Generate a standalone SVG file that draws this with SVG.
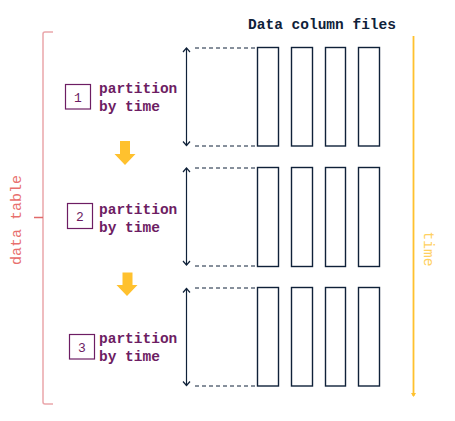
<svg xmlns="http://www.w3.org/2000/svg" width="455" height="421" viewBox="0 0 455 421">
<defs>
<style>
.col{fill:#fff;stroke:#0f2139;stroke-width:1.4}
.dash{stroke:#0f2139;stroke-width:1;stroke-dasharray:4 3;fill:none}
.dbl{stroke:#0f2139;stroke-width:1.2;fill:none;marker-start:url(#open);marker-end:url(#open)}
.lbl{font-family:"Liberation Mono","Courier New",monospace;font-size:14.5px;font-weight:bold;fill:#6d1d63}
.num{font-family:"Liberation Mono","Courier New",monospace;font-size:13px;fill:#6d1d63;text-anchor:middle}
.box{fill:#fff;stroke:#6d1d63;stroke-width:1.2}
.yarr{fill:#ffc12e}
</style>
<marker id="open" viewBox="-6 -6 12 12" markerWidth="12" markerHeight="12" refX="0" refY="0" orient="auto-start-reverse" markerUnits="userSpaceOnUse">
<path d="M-4,-3.5 L0,0 L-4,3.5" fill="none" stroke="#0f2139" stroke-width="1.2"/>
</marker>
<marker id="tarr" viewBox="-4 -4 8 8" markerWidth="8" markerHeight="8" refX="0" refY="0" orient="auto" markerUnits="userSpaceOnUse">
<path d="M-3,-2.5 L1,0 L-3,2.5 Z" fill="#ffc12e"/>
</marker>
</defs>
<rect width="455" height="421" fill="#fff"/>

<g id="title">
<text x="322" y="29" text-anchor="middle" font-family="'Liberation Mono','Courier New',monospace" font-size="14.5" font-weight="bold" fill="#0f2139">Data column files</text>
</g>

<g id="brace">
<path d="M53,32 L45,32 Q43,32 43,34 L43,402 Q43,404 45,404 L53,404" fill="none" stroke="#eaa6ab" stroke-width="1.5"/>
<line x1="34" y1="217.5" x2="43" y2="217.5" stroke="#e06a6a" stroke-width="1.5"/>
<text transform="translate(21,220) rotate(-90)" text-anchor="middle" font-family="'Liberation Mono','Courier New',monospace" font-size="15" fill="#e8706e">data table</text>
</g>

<g id="timeline">
<line x1="413.5" y1="36" x2="413.5" y2="396" stroke="#ffc12e" stroke-width="1.8" marker-end="url(#tarr)"/>
<text transform="translate(424,249) rotate(90)" text-anchor="middle" font-family="'Liberation Mono','Courier New',monospace" font-size="14.5" fill="#ffd060">time</text>
</g>

<g id="partition1">
<rect class="box" x="65.5" y="84.5" width="25" height="24.5"/>
<text class="num" x="78" y="101.5">1</text>
<text class="lbl" x="99" y="93">partition</text>
<text class="lbl" x="99" y="111">by time</text>
</g>
<g id="partition2">
<rect class="box" x="67.5" y="203.5" width="25" height="25"/>
<text class="num" x="80" y="220.5">2</text>
<text class="lbl" x="99" y="214">partition</text>
<text class="lbl" x="99" y="232">by time</text>
</g>
<g id="partition3">
<rect class="box" x="69.5" y="334.5" width="25" height="24.5"/>
<text class="num" x="82" y="351.5">3</text>
<text class="lbl" x="99" y="342.5">partition</text>
<text class="lbl" x="99" y="360.5">by time</text>
</g>

<g id="row1">
<rect class="col" x="257.5" y="47.5" width="21" height="98.5"/>
<rect class="col" x="291.5" y="47.5" width="21" height="98.5"/>
<rect class="col" x="325.5" y="47.5" width="20" height="98.5"/>
<rect class="col" x="358.5" y="47.5" width="21" height="98.5"/>
</g>
<g id="row2">
<rect class="col" x="257.5" y="167.5" width="21" height="99"/>
<rect class="col" x="291.5" y="167.5" width="21" height="99"/>
<rect class="col" x="325.5" y="167.5" width="20" height="99"/>
<rect class="col" x="358.5" y="167.5" width="21" height="99"/>
</g>
<g id="row3">
<rect class="col" x="257.5" y="287.5" width="21" height="98.5"/>
<rect class="col" x="291.5" y="287.5" width="21" height="98.5"/>
<rect class="col" x="325.5" y="287.5" width="20" height="98.5"/>
<rect class="col" x="358.5" y="287.5" width="21" height="98.5"/>
</g>

<g id="connectors">
<line class="dash" x1="195" y1="48" x2="257" y2="48"/>
<line class="dash" x1="195" y1="146" x2="257" y2="146"/>
<line class="dash" x1="195" y1="168" x2="257" y2="168"/>
<line class="dash" x1="195" y1="266" x2="257" y2="266"/>
<line class="dash" x1="195" y1="288" x2="257" y2="288"/>
<line class="dash" x1="195" y1="386" x2="257" y2="386"/>
<line class="dbl" x1="186.5" y1="48" x2="186.5" y2="145.5"/>
<line class="dbl" x1="186.5" y1="168" x2="186.5" y2="265"/>
<line class="dbl" x1="186.5" y1="288.5" x2="186.5" y2="385.5"/>
<path class="yarr" d="M120,141 L130,141 L130,154 L135.5,154 L125,165 L114.5,154 L120,154 Z"/>
<path class="yarr" d="M122.5,272.5 L132.5,272.5 L132.5,285 L137.5,285 L127,296 L116.5,285 L122.5,285 Z"/>
</g>
</svg>
